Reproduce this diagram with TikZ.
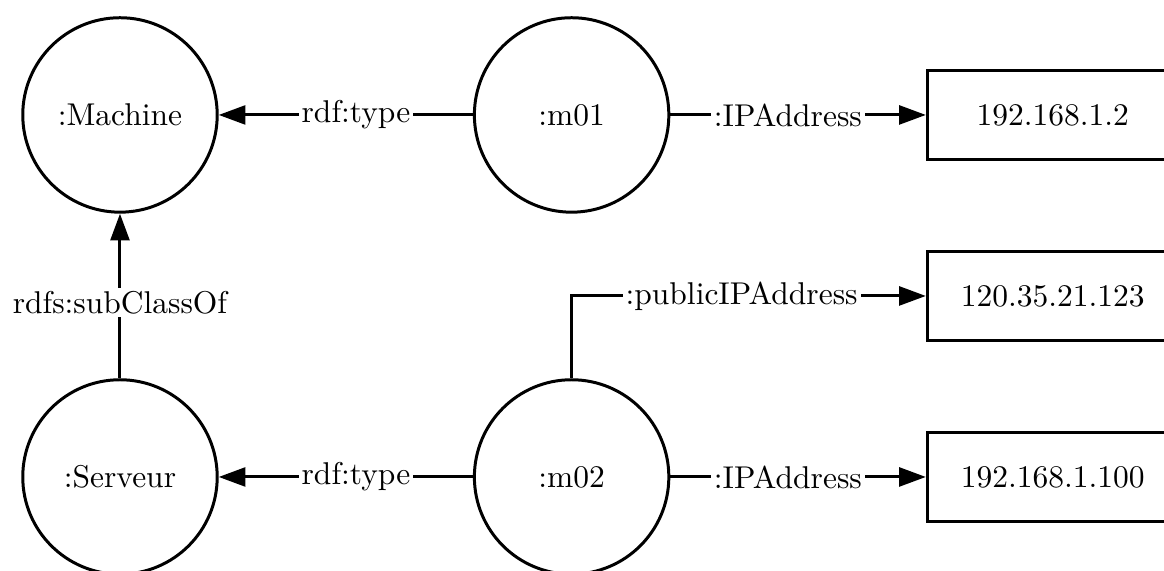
\documentclass[tikz,border=0pt]{standalone}
\usepackage{tikz}
\usetikzlibrary{arrows.meta}

\begin{document}
\begin{tikzpicture}[>={Triangle[length=8.5pt,width=6pt]},line width=0.95pt,
  res/.style={draw,circle,minimum size=2.17cm,inner sep=0pt},
  lit/.style={draw,rectangle,minimum width=2.8cm,minimum height=1cm},
  prop/.style={fill=white,inner sep=1pt,pos=0.46}]
\useasboundingbox (-1.339,-1.049) rectangle (11.651,5.323);
\node[res] (machine) at (0,4.04) {:Machine};
\node[res] (m01) at (5.04,4.04) {:m01};
\node[res] (serveur) at (0,0) {:Serveur};
\node[res] (m02) at (5.04,0) {:m02};
\node[lit] (ip1) at (10.41,4.04) {192.168.1.2};
\node[lit] (ip2) at (10.41,2.02) {120.35.21.123};
\node[lit] (ip3) at (10.41,0) {192.168.1.100};
\draw[->] (m01) -- (machine) node[prop]{rdf:type};
\draw[->] (m01) -- (ip1) node[prop]{:IPAddress};
\draw[->] (serveur) -- (machine) node[prop]{rdfs:subClassOf};
\draw[->] (m02) -- (serveur) node[prop]{rdf:type};
\draw[->] (m02) -- (ip3) node[prop]{:IPAddress};
\draw[->] (m02.north) |- (ip2.west) node[prop,pos=0.74]{:publicIPAddress};
\end{tikzpicture}
\end{document}
